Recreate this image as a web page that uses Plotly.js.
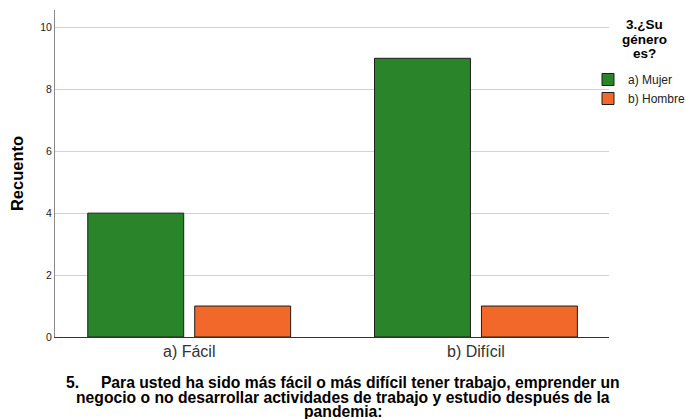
<!DOCTYPE html>
<html>
<head>
<meta charset="utf-8">
<script src="https://cdn.plot.ly/plotly-3.0.1.min.js"></script>
<style>html,body{margin:0;padding:0;background:#fff;}#chart{width:686px;height:419px;}</style>
</head>
<body>
<div id="chart"></div>
<script>
const categories = ["a) Fácil", "b) Difícil"];
const seriesNames = ["a) Mujer", "b) Hombre"];
const mujer = [4, 9];
const hombre = [1, 1];
const yTicks = [0, 2, 4, 6, 8, 10];
const titleLines = [
  "5.\u00a0\u00a0\u00a0\u00a0\u00a0Para usted ha sido más fácil o más difícil tener trabajo, emprender un",
  "negocio o no desarrollar actividades de trabajo y estudio después de la",
  "pandemia:"
];
const legendTitleLines = ["3.¿Su", "género", "es?"];
const colors = ["#2A852A", "#F2682A"];

const traces = [mujer, hombre].map((vals, i) => ({
  type: "bar",
  name: seriesNames[i],
  x: categories,
  y: vals,
  marker: {color: colors[i], line: {color: "#1e1e1e", width: 1}},
  hoverinfo: "x+y+name"
}));

// plot area geometry (px)
const W = 686, H = 419;
const plotLeft = 54.5, plotRight = 609, plotTop = 10, plotBottom = 337.3;
const plotW = plotRight - plotLeft, plotH = plotBottom - plotTop;
const px2x = px => (px - plotLeft) / plotW;
const px2y = py => (plotBottom - py) / plotH;

const titleCenters = [383, 397.5, 412];
const legendTitleCenters = [25, 39.5, 53.5];

const annotations = titleLines.map((t, i) => ({
  text: "<b>" + t + "</b>",
  xref: "paper", yref: "paper",
  x: px2x(343), xanchor: "center",
  y: px2y(titleCenters[i]), yanchor: "middle",
  showarrow: false,
  font: {size: 15.7, color: "#000"}
})).concat(legendTitleLines.map((t, i) => ({
  text: "<b>" + t + "</b>",
  xref: "paper", yref: "paper",
  x: px2x(645), xanchor: "center",
  y: px2y(legendTitleCenters[i]), yanchor: "middle",
  showarrow: false,
  font: {size: 13.5, color: "#000"}
})));

const layout = {
  width: W, height: H,
  margin: {l: plotLeft, r: W - plotRight, t: plotTop, b: H - plotBottom, pad: 0, autoexpand: false},
  paper_bgcolor: "#fff", plot_bgcolor: "#fff",
  font: {family: "Liberation Sans, Arial, sans-serif", color: "#000"},
  barmode: "group",
  bargap: 0.254,
  bargroupgap: 0.103,
  xaxis: {
    range: [-0.468, 1.464],
    showline: true, linecolor: "#333", linewidth: 1,
    ticks: "", showgrid: false, zeroline: false,
    tickfont: {size: 16, color: "#333"},
    fixedrange: true
  },
  yaxis: {
    range: [0, 10.56],
    tickvals: yTicks, ticktext: yTicks.map(String),
    showline: true, linecolor: "#8a8a8a", linewidth: 1,
    ticks: "", showgrid: true, gridcolor: "#d2d2d2", gridwidth: 1,
    zeroline: false,
    tickfont: {size: 10.5, color: "#222"},
    title: {text: "<b>Recuento</b>", font: {size: 16.5, color: "#000"}, standoff: 12},
    fixedrange: true
  },
  annotations: annotations,
  showlegend: true,
  legend: {
    x: 588 / W, xref: "container", xanchor: "left",
    y: 1 - 65 / H, yref: "container", yanchor: "top",
    bgcolor: "rgba(0,0,0,0)",
    font: {size: 12, color: "#222"},
    itemwidth: 30,
    tracegroupgap: 0
  }
};

Plotly.newPlot("chart", traces, layout, {displayModeBar: false, staticPlot: true});
</script>
</body>
</html>
